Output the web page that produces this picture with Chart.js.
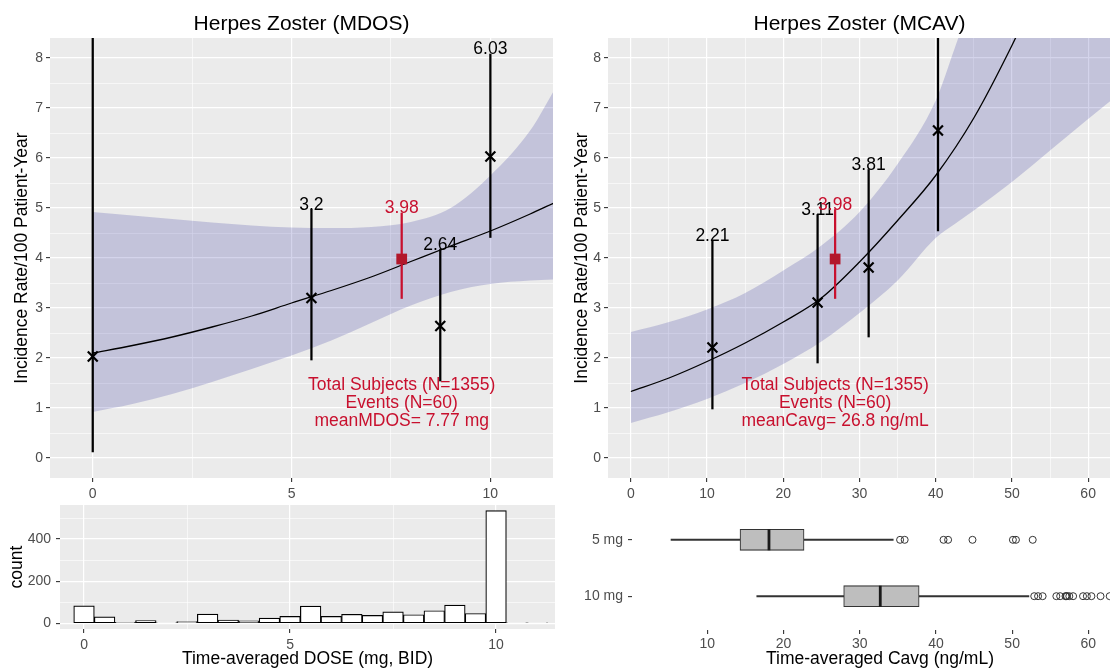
<!DOCTYPE html>
<html>
<head>
<meta charset="utf-8">
<script src="https://cdn.jsdelivr.net/npm/chart.js@4.4.1/dist/chart.umd.min.js"></script>
<style>
  html, body { margin: 0; padding: 0; background: #fff; overflow: hidden; }
  body { width: 1110px; height: 669px; position: relative; }
  .panel { position: absolute; }
  .panel canvas { display: block; }
</style>
</head>
<body>
<div class="panel" style="left:0;top:0"><canvas id="mdos" width="560" height="500"></canvas></div>
<div class="panel" style="left:560px;top:0"><canvas id="mcav" width="580" height="500"></canvas></div>
<div class="panel" style="left:0;top:500px"><canvas id="doseHist" width="560" height="169"></canvas></div>
<div class="panel" style="left:560px;top:500px"><canvas id="cavgBox" width="580" height="169"></canvas></div>
<script>
const FONT = '"Liberation Sans", Arial, Helvetica, sans-serif';
const RED = '#C8102E';
const RED_MARK = '#B2182B';
const BAND = 'rgba(0, 0, 139, 0.17)';

// incidence by dose group (MDOS)
const mdosDose = [0, 5.5, 8.74, 10];
const mdosRate = [2.03, 3.2, 2.64, 6.03];
const mdosLower = [0.12, 1.96, 1.54, 4.41];
const mdosUpper = [11.3, 4.97, 4.17, 8.08];
const mdosMean = 7.77;
const mdosMeanRate = 3.98;
const mdosMeanLower = 3.19;
const mdosMeanUpper = 4.9;

// model fit and 95% band (MDOS)
const mdosFitX = [0, 1, 2, 3, 4, 5, 6, 7, 8, 9, 10, 11, 11.6];
const mdosFit = [2.1, 2.25, 2.42, 2.62, 2.84, 3.1, 3.35, 3.62, 3.93, 4.24, 4.54, 4.88, 5.1];
const mdosBandHigh = [4.92, 4.85, 4.78, 4.71, 4.65, 4.61, 4.6, 4.62, 4.72, 5.0, 5.65, 6.55, 7.35];
const mdosBandLow = [0.92, 1.08, 1.28, 1.52, 1.78, 2.05, 2.35, 2.7, 3.05, 3.32, 3.48, 3.55, 3.57];

// incidence by exposure group (MCAV)
const mcavConc = [10.7, 24.5, 31.2, 40.3];
const mcavRate = [2.21, 3.11, 3.81, 6.55];
const mcavLower = [0.98, 1.9, 2.42, 4.54];
const mcavUpper = [4.34, 4.87, 5.77, 11.5];
const mcavMean = 26.8;
const mcavMeanRate = 3.98;
const mcavMeanLower = 3.19;
const mcavMeanUpper = 4.97;

// model fit and 95% band (MCAV)
const mcavFitX = [0, 5, 10, 15, 20, 25, 30, 35, 40, 45, 50, 52];
const mcavFit = [1.33, 1.6, 1.93, 2.3, 2.72, 3.2, 3.92, 4.75, 5.65, 6.8, 8.25, 8.9];
const mcavBandX = [0, 5, 10, 15, 20, 25, 30, 35, 40, 42.5, 45, 50, 55, 60, 63];
const mcavBandHigh = [2.52, 2.72, 2.97, 3.3, 3.75, 4.25, 4.92, 5.88, 7.15, 8.2, 9.3, 11.2, 14, 17, 19];
const mcavBandLow = [0.7, 0.92, 1.18, 1.5, 1.88, 2.33, 2.9, 3.55, 4.4, 4.68, 4.95, 5.52, 6.15, 6.78, 7.15];

// dose histogram
const doseBins = [0, 0.5, 1, 1.5, 2, 2.5, 3, 3.5, 4, 4.5, 5, 5.5, 6, 6.5, 7, 7.5, 8, 8.5, 9, 9.5, 10, 10.5, 11];
const doseCounts = [83, 31, 5, 13, 3, 9, 44, 16, 12, 25, 33, 82, 33, 43, 38, 55, 41, 60, 87, 47, 535, 3, 3];

// Cavg by dose group
const cavgGroups = ['5 mg', '10 mg'];
const cavgGroupPos = [1, 2];
const cavgWhiskerLow = [5.25, 16.5];
const cavgQ1 = [14.3, 27.9];
const cavgMedian = [18.1, 32.7];
const cavgQ3 = [22.7, 37.8];
const cavgWhiskerHigh = [34.4, 52.2];
const cavgOutliers5 = [35.3, 35.9, 41.0, 41.6, 44.8, 50.1, 50.5, 52.7];
const cavgOutliers10 = [52.9, 53.4, 54.0, 55.8, 56.3, 57.0, 57.1, 57.2, 57.5, 58.0, 59.3, 59.8, 60.4, 61.6, 62.8];

// axis breaks
const rateTicks = [0, 0.5, 1, 1.5, 2, 2.5, 3, 3.5, 4, 4.5, 5, 5.5, 6, 6.5, 7, 7.5, 8];
const doseTicks = [0, 2.5, 5, 7.5, 10];
const concTicks = [0, 5, 10, 15, 20, 25, 30, 35, 40, 45, 50, 55, 60];
const countTicks = [0, 100, 200, 300, 400, 500];
const boxConcTicks = [10, 20, 30, 40, 50, 60];

Chart.defaults.font.family = FONT;
Chart.defaults.layout.autoPadding = false;

// grey panel behind the plotting area
const panelBg = {
  id: 'panelBg',
  beforeDraw(chart, args, o) {
    if (!o.color) return;
    const { ctx, chartArea: a } = chart;
    ctx.save();
    ctx.fillStyle = o.color;
    ctx.fillRect(a.left, a.top, a.right - a.left, a.bottom - a.top);
    ctx.restore();
  }
};

// title, interval labels and the summary note
const panelText = {
  id: 'panelText',
  afterDatasetsDraw(chart, args, o) {
    const { ctx, chartArea: a, scales: { x, y } } = chart;
    ctx.save();
    ctx.textAlign = 'center';
    ctx.textBaseline = 'alphabetic';
    if (o.title) {
      ctx.font = '21px ' + FONT;
      ctx.fillStyle = '#000';
      ctx.fillText(o.title, (a.left + a.right) / 2, 30);
    }
    ctx.beginPath();
    ctx.rect(a.left, a.top, a.right - a.left, a.bottom - a.top);
    ctx.clip();
    ctx.font = '17.5px ' + FONT;
    (o.labels || []).forEach(l => {
      ctx.fillStyle = l.color;
      ctx.fillText(String(l.text), x.getPixelForValue(l.x), y.getPixelForValue(l.y));
    });
    if (o.note) {
      ctx.fillStyle = RED;
      ctx.textBaseline = 'middle';
      const cx = x.getPixelForValue(o.noteX);
      const cy = y.getPixelForValue(o.noteY);
      o.note.forEach((line, i) => ctx.fillText(line, cx, cy + (i - 1) * 18.3));
    }
    ctx.restore();
  }
};

function axis(min, max, ticks, every, size, pad, title) {
  const major = c => c.tick && c.tick.value % every === 0;
  return {
    type: 'linear', min: min, max: max, offset: false,
    afterBuildTicks: s => { s.ticks = ticks.map(v => ({ value: v })); },
    afterFit: s => {
      if (s.isHorizontal()) s.height = size; else s.width = size;
      // keep the plotting area where the layout padding puts it
      s.paddingTop = s.paddingBottom = s.paddingLeft = s.paddingRight = 0;
    },
    ticks: {
      autoSkip: false, maxRotation: 0, padding: pad, color: '#4D4D4D', font: { size: 14 },
      callback: v => (v % every === 0 ? v : '')
    },
    grid: {
      offset: false, color: '#FFFFFF',
      lineWidth: c => (major(c) ? 1.2 : 0.6),
      tickLength: 4, tickWidth: 1.1,
      tickColor: c => (major(c) ? '#333333' : 'rgba(0,0,0,0)')
    },
    border: { display: false },
    title: title || { display: false }
  };
}

function axisTitle(text, pad) {
  return { display: true, text: text, color: '#000', font: { size: 17.5, lineHeight: 1.2 }, padding: pad };
}

const pts = (xs, ys) => xs.map((v, i) => ({ x: v, y: ys[i] }));

function rateChart(id, p) {
  return new Chart(document.getElementById(id), {
    type: 'scatter',
    data: {
      datasets: [
        { type: 'line', data: pts(p.bandX, p.bandHigh), borderWidth: 0, pointRadius: 0, fill: false,
          cubicInterpolationMode: 'monotone', order: 6 },
        { type: 'line', data: pts(p.bandX, p.bandLow), borderWidth: 0, pointRadius: 0, fill: '-1',
          backgroundColor: BAND, cubicInterpolationMode: 'monotone', order: 5 },
        { type: 'line', data: pts(p.fitX, p.fit), borderColor: '#000', borderWidth: 1.3, pointRadius: 0,
          fill: false, cubicInterpolationMode: 'monotone', order: 4 },
        { type: 'bar', data: p.x.map((v, i) => ({ x: v, y: [p.lower[i], p.upper[i]] })),
          backgroundColor: '#000', barThickness: 1.6, grouped: false, order: 3 },
        { type: 'bar', data: [{ x: p.mean, y: [p.meanLower, p.meanUpper] }],
          backgroundColor: RED, barThickness: 1.6, grouped: false, order: 2 },
        { type: 'scatter', data: pts(p.x, p.rate), pointStyle: 'crossRot', pointRadius: 7,
          pointBorderWidth: 2.2, pointBorderColor: '#000', order: 1 },
        { type: 'scatter', data: [{ x: p.mean, y: p.meanRate }], pointStyle: 'rect', pointRadius: 7.6,
          pointBackgroundColor: RED_MARK, pointBorderWidth: 0, order: 0 }
      ]
    },
    options: {
      responsive: false, animation: false, events: [], devicePixelRatio: 1,
      layout: { padding: { top: 38, right: p.padRight, left: 0, bottom: 0 } },
      scales: {
        x: axis(p.xMin, p.xMax, p.xTicks, p.xEvery, 22, 3.5),
        y: axis(-0.4, 8.4, rateTicks, 1, p.yWidth, 3,
          axisTitle('Incidence Rate/100 Patient-Year', { top: p.titlePad, bottom: 0 }))
      },
      plugins: {
        legend: { display: false }, tooltip: { enabled: false },
        panelBg: { color: '#EBEBEB' },
        panelText: {
          title: p.title,
          labels: p.x.map((v, i) => ({ x: v, y: p.upper[i], text: p.rate[i], color: '#000' }))
            .concat([{ x: p.mean, y: p.meanUpper, text: p.meanRate, color: RED }]),
          note: p.note, noteX: p.mean, noteY: 1.1
        }
      }
    },
    plugins: [panelBg, panelText]
  });
}

rateChart('mdos', {
  title: 'Herpes Zoster (MDOS)',
  x: mdosDose, rate: mdosRate, lower: mdosLower, upper: mdosUpper,
  mean: mdosMean, meanRate: mdosMeanRate, meanLower: mdosMeanLower, meanUpper: mdosMeanUpper,
  fitX: mdosFitX, fit: mdosFit, bandX: mdosFitX, bandHigh: mdosBandHigh, bandLow: mdosBandLow,
  xMin: -1.075, xMax: 11.575, xTicks: doseTicks, xEvery: 5,
  padRight: 7, yWidth: 50, titlePad: 12,
  note: ['Total Subjects (N=1355)', 'Events (N=60)', 'meanMDOS= ' + mdosMean + ' mg']
});

rateChart('mcav', {
  title: 'Herpes Zoster (MCAV)',
  x: mcavConc, rate: mcavRate, lower: mcavLower, upper: mcavUpper,
  mean: mcavMean, meanRate: mcavMeanRate, meanLower: mcavMeanLower, meanUpper: mcavMeanUpper,
  fitX: mcavFitX, fit: mcavFit, bandX: mcavBandX, bandHigh: mcavBandHigh, bandLow: mcavBandLow,
  xMin: -3, xMax: 63, xTicks: concTicks, xEvery: 10,
  padRight: 29, yWidth: 48, titlePad: 11.5,
  note: ['Total Subjects (N=1355)', 'Events (N=60)', 'meanCavg= ' + mcavMean + ' ng/mL']
});

// histogram of time-averaged dose
new Chart(document.getElementById('doseHist'), {
  type: 'bar',
  data: {
    datasets: [{
      data: pts(doseBins, doseCounts),
      backgroundColor: '#FFFFFF', borderColor: '#000', borderWidth: 1.2, borderSkipped: false,
      barPercentage: 1, categoryPercentage: 1
    }]
  },
  options: {
    responsive: false, animation: false, events: [], devicePixelRatio: 1,
    layout: { padding: { top: 5, right: 5, left: 0, bottom: 0 } },
    scales: {
      x: axis(-0.583, 11.43, doseTicks, 5, 40, 3.5,
        axisTitle('Time-averaged DOSE (mg, BID)', { top: 0, bottom: -1 })),
      y: axis(-26.75, 561.75, countTicks, 200, 60, 5, axisTitle('count', { top: 6.5, bottom: 0 }))
    },
    plugins: {
      legend: { display: false }, tooltip: { enabled: false },
      panelBg: { color: '#EBEBEB' }
    }
  },
  plugins: [panelBg]
});

// Cavg box plots by dose group
const boxX = axis(0.13, 65.2, boxConcTicks, 10, 39, 2,
  axisTitle('Time-averaged Cavg (ng/mL)', { top: 0, bottom: -1 }));
boxX.grid.drawOnChartArea = false;
const boxY = axis(0.4, 2.6, cavgGroupPos, 1, 72, 5);
boxY.reverse = true;
boxY.grid.drawOnChartArea = false;
boxY.ticks.callback = v => cavgGroups[cavgGroupPos.indexOf(v)];

new Chart(document.getElementById('cavgBox'), {
  type: 'bar',
  data: {
    datasets: [
      { data: cavgGroupPos.map((g, i) => ({ y: g, x: [cavgWhiskerLow[i], cavgWhiskerHigh[i]] })),
        backgroundColor: '#333333', barThickness: 1.3, grouped: false, order: 3 },
      { data: cavgGroupPos.map((g, i) => ({ y: g, x: [cavgQ1[i], cavgQ3[i]] })),
        backgroundColor: '#BEBEBE', borderColor: '#333333', borderWidth: 1.1, borderSkipped: false,
        barThickness: 21, grouped: false, order: 2 },
      { type: 'scatter', indexAxis: 'x', data: pts(cavgMedian, cavgGroupPos),
        pointStyle: 'line', pointRotation: 90, pointRadius: 10.5, pointBorderWidth: 2.8,
        pointBorderColor: '#1A1A1A', order: 1 },
      { type: 'scatter', indexAxis: 'x',
        data: cavgOutliers5.map(v => ({ x: v, y: cavgGroupPos[0] }))
          .concat(cavgOutliers10.map(v => ({ x: v, y: cavgGroupPos[1] }))),
        pointStyle: 'circle', pointRadius: 3.5, pointBorderWidth: 1, pointBorderColor: '#333333',
        pointBackgroundColor: 'rgba(0,0,0,0)', order: 0 }
    ]
  },
  options: {
    indexAxis: 'y',
    responsive: false, animation: false, events: [], devicePixelRatio: 1,
    layout: { padding: { top: 6, right: 12, left: 0, bottom: 0 } },
    scales: { x: boxX, y: boxY },
    plugins: { legend: { display: false }, tooltip: { enabled: false } }
  }
});
</script>
</body>
</html>
